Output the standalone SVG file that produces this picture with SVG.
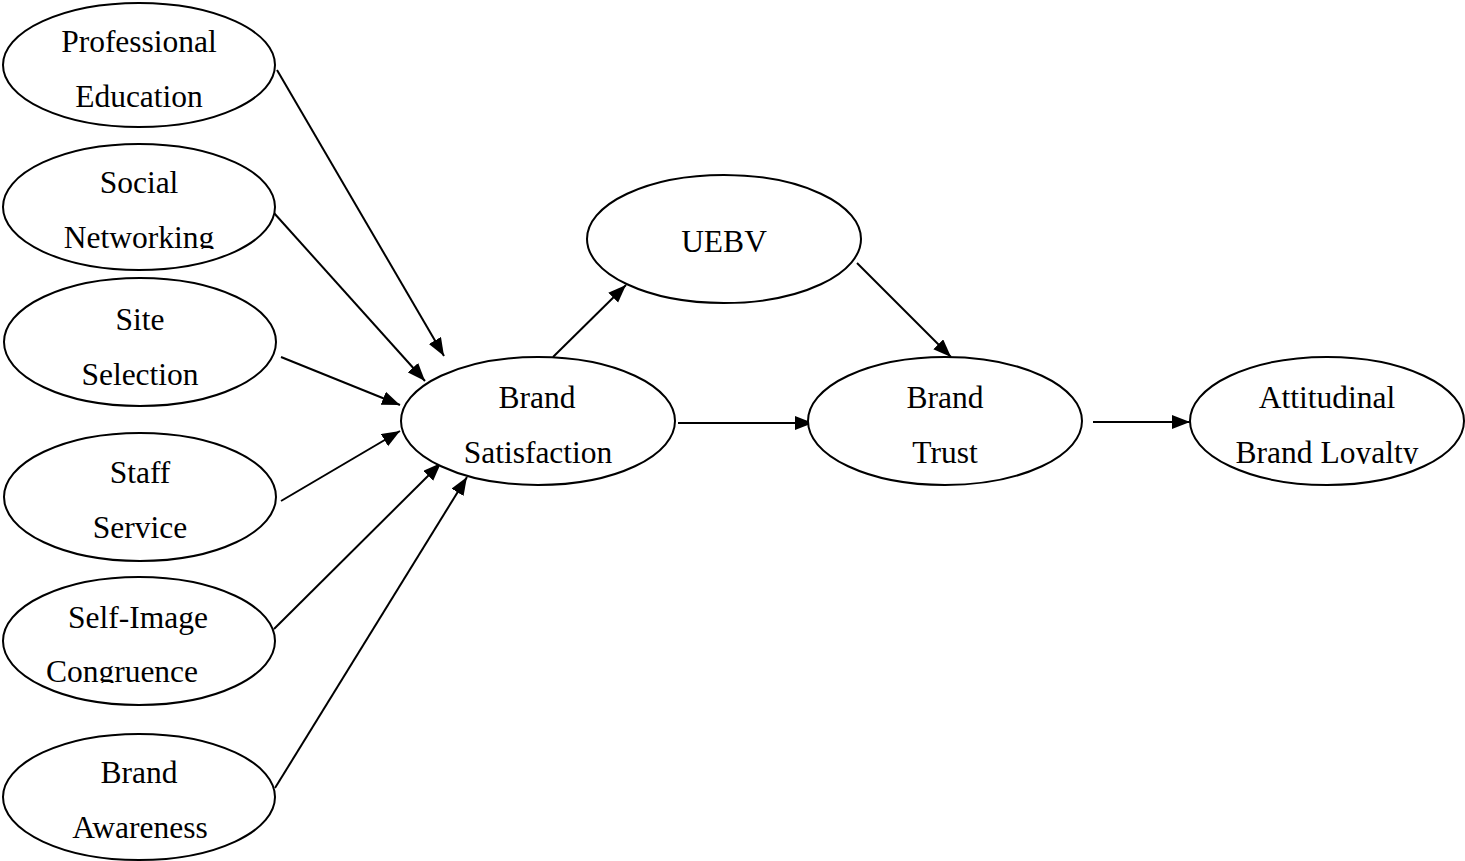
<svg xmlns="http://www.w3.org/2000/svg" width="1465" height="861" viewBox="0 0 1465 861">
<style>
.n{fill:#fff;stroke:#000;stroke-width:2}
.t{font-family:"Liberation Serif","Times New Roman",serif;font-size:31.5px;fill:#000;text-anchor:middle}
.c{stroke:#000;stroke-width:2;fill:none;marker-end:url(#ah)}
</style>
<defs>
<marker id="ah" markerUnits="userSpaceOnUse" markerWidth="19" markerHeight="15" refX="18" refY="7" orient="auto">
<path d="M0,0 L18,7 L0,14 z" fill="#000"/>
</marker>
<clipPath id="cp1"><rect x="0" y="0" width="300" height="249"/></clipPath>
<clipPath id="cp2"><rect x="0" y="560" width="300" height="123"/></clipPath>
<clipPath id="cp3"><rect x="1180" y="340" width="285" height="124"/></clipPath>
</defs>
<rect width="1465" height="861" fill="#fff"/>
<g id="connectors">
<line class="c" x1="277" y1="70" x2="444" y2="356"/>
<line class="c" x1="274" y1="213" x2="425" y2="381"/>
<line class="c" x1="281" y1="357" x2="400" y2="405"/>
<line class="c" x1="281" y1="501" x2="400" y2="431"/>
<line class="c" x1="274" y1="629" x2="441" y2="463"/>
<line class="c" x1="275" y1="788" x2="467" y2="477"/>
<line class="c" x1="553" y1="357" x2="626" y2="285"/>
<line class="c" x1="857" y1="263" x2="951" y2="357"/>
<line class="c" x1="678" y1="423" x2="813" y2="423"/>
<line class="c" x1="1093" y1="422" x2="1190" y2="422"/>
</g>
<g id="professional-education">
<ellipse class="n" cx="139" cy="65" rx="136" ry="62"/>
<text class="t" x="139" y="52">Professional</text>
<text class="t" x="139" y="107">Education</text>
</g>
<g id="social-networking">
<ellipse class="n" cx="139" cy="207" rx="136" ry="63"/>
<text class="t" x="139" y="193">Social</text>
<text class="t" x="139" y="248" clip-path="url(#cp1)">Networking</text>
</g>
<g id="site-selection">
<ellipse class="n" cx="140" cy="342" rx="136" ry="64"/>
<text class="t" x="140" y="330">Site</text>
<text class="t" x="140" y="385">Selection</text>
</g>
<g id="staff-service">
<ellipse class="n" cx="140" cy="497" rx="136" ry="64"/>
<text class="t" x="140" y="483">Staff</text>
<text class="t" x="140" y="538">Service</text>
</g>
<g id="self-image-congruence">
<ellipse class="n" cx="139" cy="641" rx="136" ry="64"/>
<text class="t" x="138" y="628">Self-Image</text>
<text class="t" x="122" y="682" clip-path="url(#cp2)">Congruence</text>
</g>
<g id="brand-awareness">
<ellipse class="n" cx="139" cy="797" rx="136" ry="63"/>
<text class="t" x="139" y="783">Brand</text>
<text class="t" x="140" y="838">Awareness</text>
</g>
<g id="brand-satisfaction">
<ellipse class="n" cx="538" cy="421" rx="137" ry="64"/>
<text class="t" x="537" y="408">Brand</text>
<text class="t" x="538" y="463">Satisfaction</text>
</g>
<g id="uebv">
<ellipse class="n" cx="724" cy="239" rx="137" ry="64"/>
<text class="t" x="724" y="252">UEBV</text>
</g>
<g id="brand-trust">
<ellipse class="n" cx="945" cy="421" rx="137" ry="64"/>
<text class="t" x="945" y="408">Brand</text>
<text class="t" x="945" y="463">Trust</text>
</g>
<g id="attitudinal-brand-loyalty">
<ellipse class="n" cx="1327" cy="421" rx="137" ry="64"/>
<text class="t" x="1327" y="408">Attitudinal</text>
<text class="t" x="1327" y="463" clip-path="url(#cp3)">Brand Loyalty</text>
</g>
</svg>
